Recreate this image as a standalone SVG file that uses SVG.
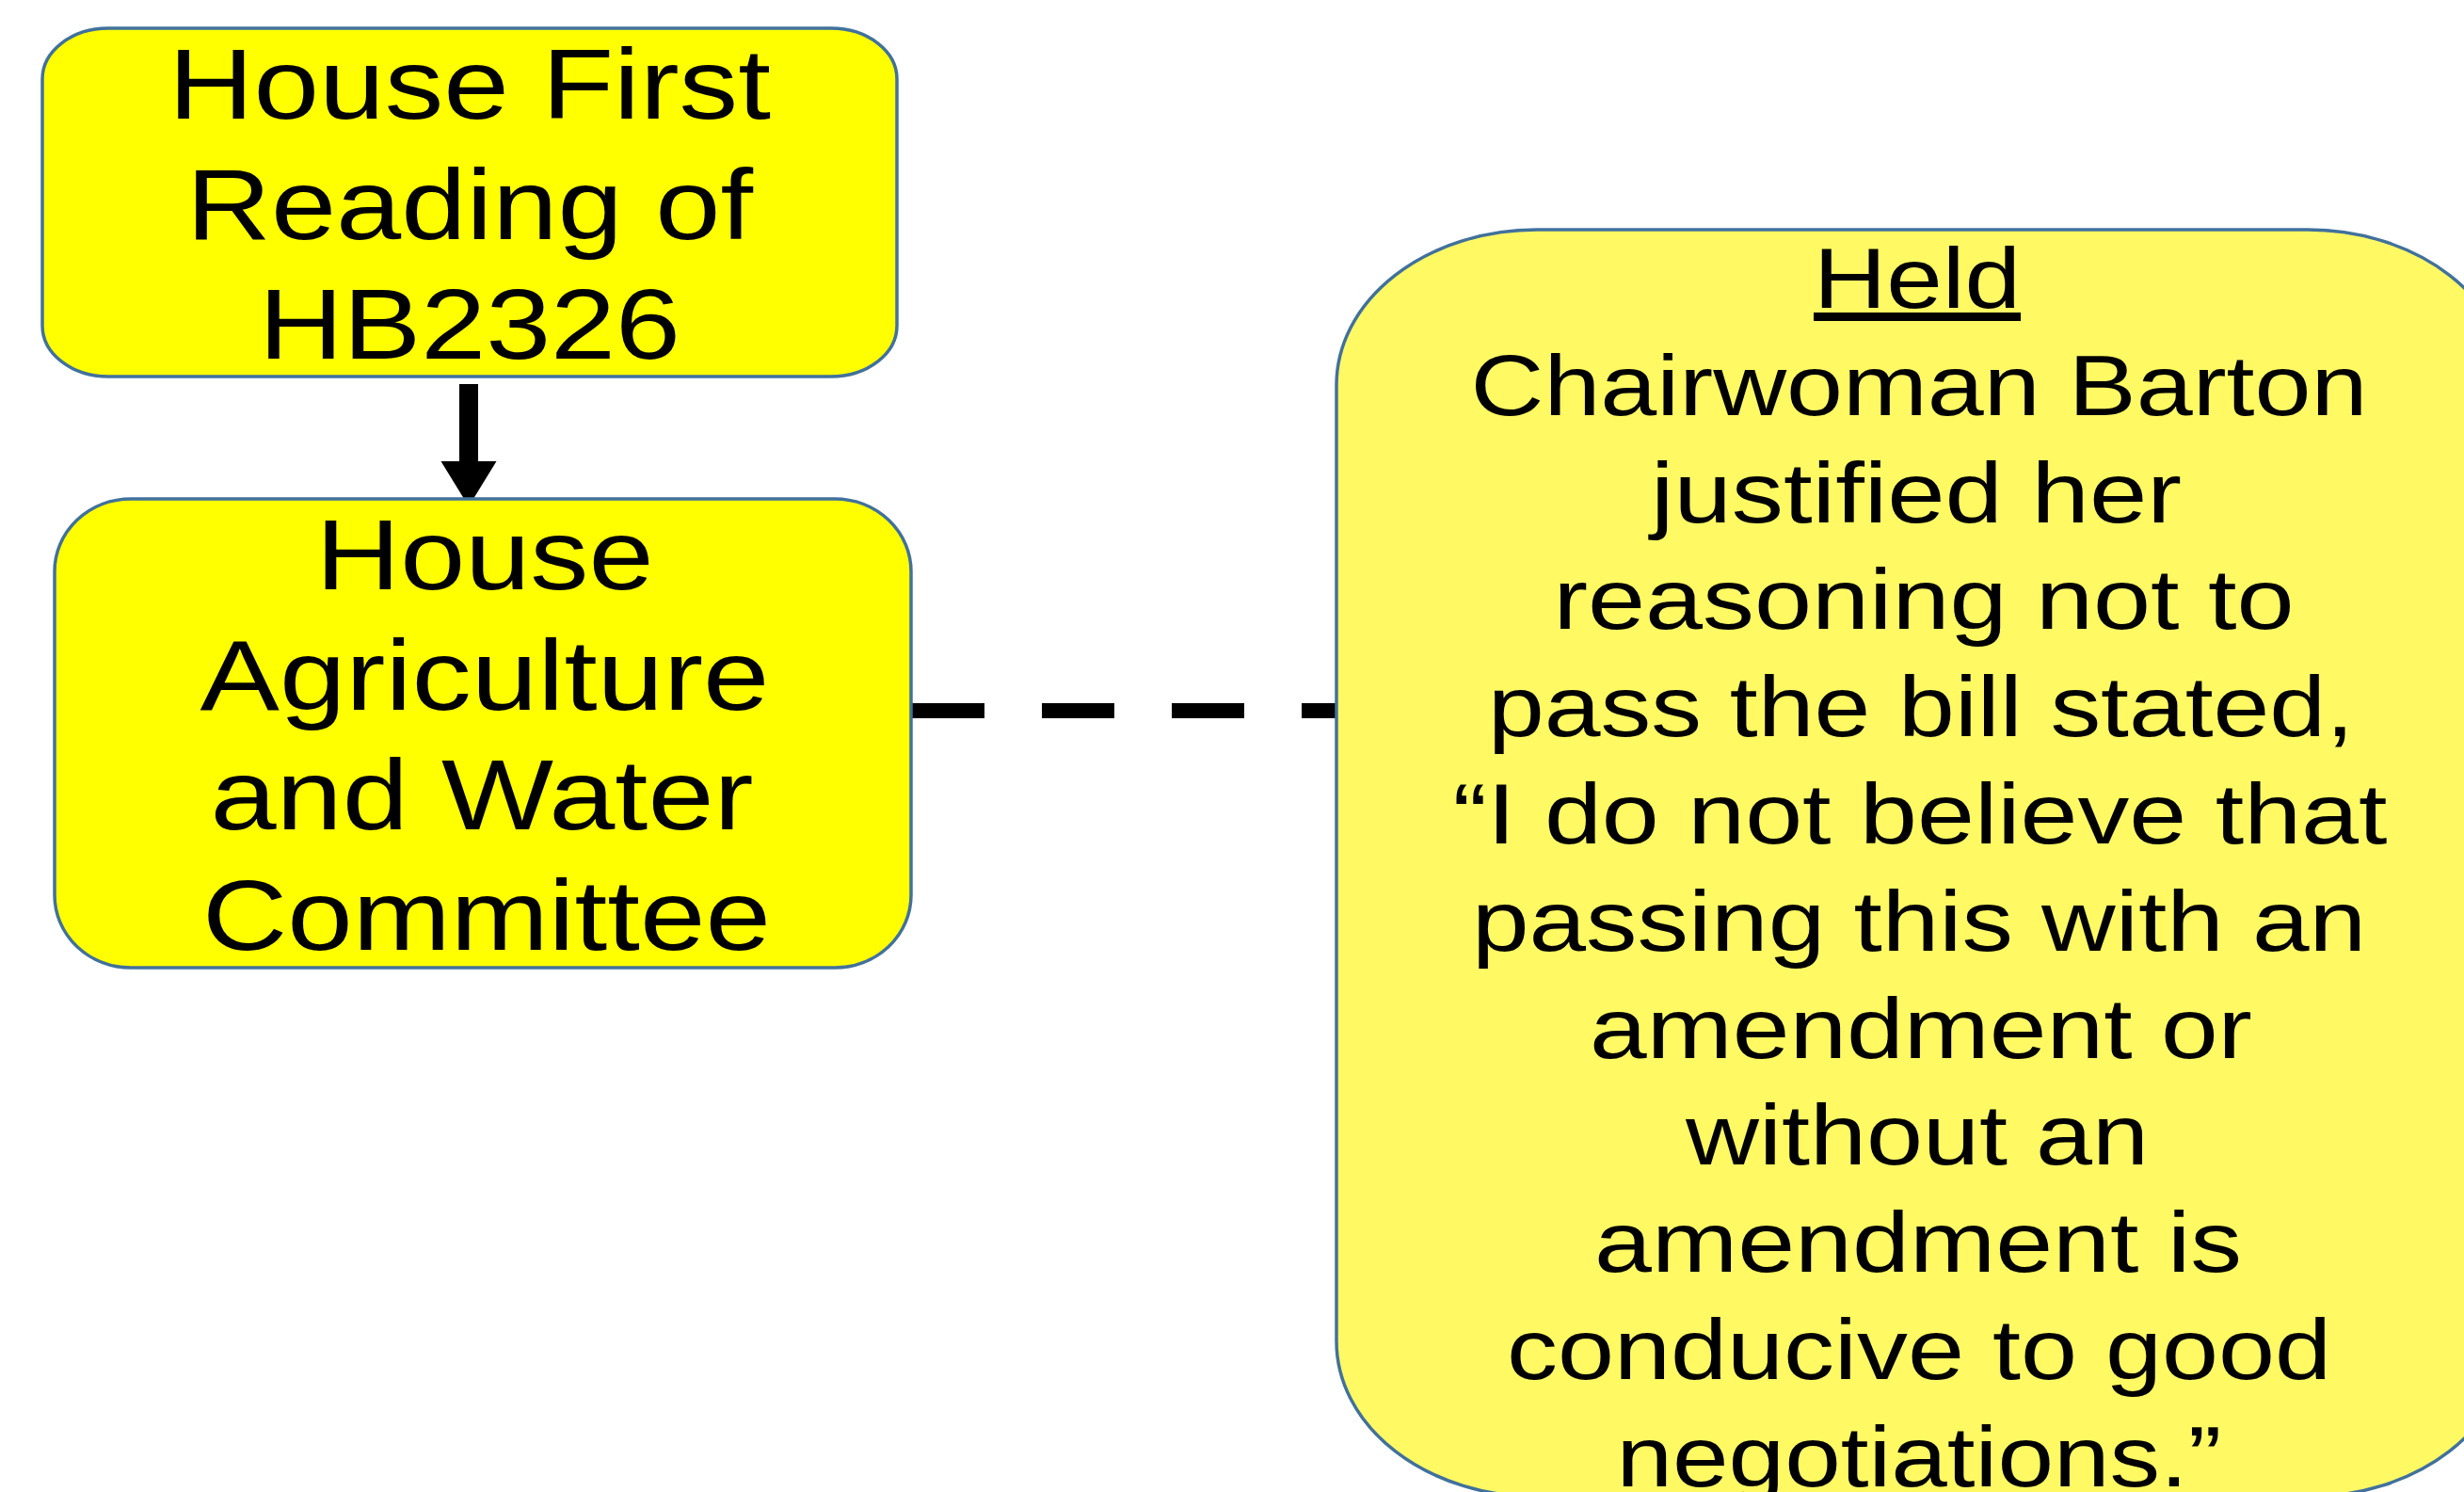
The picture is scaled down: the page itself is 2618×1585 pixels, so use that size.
<svg xmlns="http://www.w3.org/2000/svg" width="2618" height="1585" viewBox="0 0 2618 1585">
<style>
  .box { stroke: #41719C; stroke-width: 3.5; }
  .y1 { fill: #FFFF00; }
  .y2 { fill: #FFF964; }
  .t { font-family: "Liberation Sans", Arial, sans-serif; fill: #000000; text-anchor: middle; }
  .big { font-size: 106px; }
  .mid { font-size: 90px; }
  .conn { stroke: #000000; fill: none; }
</style>
<defs>
  <marker id="head" markerUnits="userSpaceOnUse" markerWidth="60" markerHeight="60" refX="0" refY="29.5" orient="auto">
    <path d="M0,0 L48,29.5 L0,59 Z" fill="#000000"/>
  </marker>
</defs>
<rect width="2618" height="1585" fill="#FFFFFF"/>
<g id="connectors">
  <line class="conn" x1="498" y1="408" x2="498" y2="490" stroke-width="20" marker-end="url(#head)"/>
  <line class="conn" x1="969" y1="755" x2="1420" y2="755" stroke-width="16" stroke-dasharray="77 61"/>
</g>
<g id="node-first-reading">
  <rect class="box y1" x="45" y="30" width="908" height="370" rx="70" ry="54"/>
  <text class="t big" x="499" y="126" textLength="640" lengthAdjust="spacingAndGlyphs">House First</text>
  <text class="t big" x="499" y="254" textLength="602" lengthAdjust="spacingAndGlyphs">Reading of</text>
  <text class="t big" x="499" y="381" textLength="448" lengthAdjust="spacingAndGlyphs">HB2326</text>
</g>
<g id="node-committee">
  <rect class="box y1" x="58" y="530" width="910" height="498" rx="81" ry="77"/>
  <text class="t big" x="515" y="626" textLength="359" lengthAdjust="spacingAndGlyphs">House</text>
  <text class="t big" x="515" y="754" textLength="605" lengthAdjust="spacingAndGlyphs">Agriculture</text>
  <text class="t big" x="512" y="881" textLength="577" lengthAdjust="spacingAndGlyphs">and Water</text>
  <text class="t big" x="517" y="1009" textLength="604" lengthAdjust="spacingAndGlyphs">Committee</text>
</g>
<g id="node-held">
  <rect class="box y2" x="1420" y="244" width="1245" height="1346" rx="213" ry="165"/>
  <text class="t mid" x="2037" y="327" textLength="220" lengthAdjust="spacingAndGlyphs" text-decoration="underline">Held</text>
  <text class="t mid" x="2039" y="441" textLength="953" lengthAdjust="spacingAndGlyphs">Chairwoman Barton</text>
  <text class="t mid" x="2036" y="555" textLength="564" lengthAdjust="spacingAndGlyphs">justified her</text>
  <text class="t mid" x="2044" y="668" textLength="787" lengthAdjust="spacingAndGlyphs">reasoning not to</text>
  <text class="t mid" x="2041" y="782" textLength="920" lengthAdjust="spacingAndGlyphs">pass the bill stated,</text>
  <text class="t mid" x="2040" y="896" textLength="993" lengthAdjust="spacingAndGlyphs">“I do not believe that</text>
  <text class="t mid" x="2039" y="1010" textLength="950" lengthAdjust="spacingAndGlyphs">passing this with an</text>
  <text class="t mid" x="2041" y="1124" textLength="704" lengthAdjust="spacingAndGlyphs">amendment or</text>
  <text class="t mid" x="2037" y="1237" textLength="492" lengthAdjust="spacingAndGlyphs">without an</text>
  <text class="t mid" x="2038" y="1351" textLength="688" lengthAdjust="spacingAndGlyphs">amendment is</text>
  <text class="t mid" x="2039" y="1465" textLength="876" lengthAdjust="spacingAndGlyphs">conducive to good</text>
  <text class="t mid" x="2039" y="1579" textLength="643" lengthAdjust="spacingAndGlyphs">negotiations.”</text>
</g>
</svg>
